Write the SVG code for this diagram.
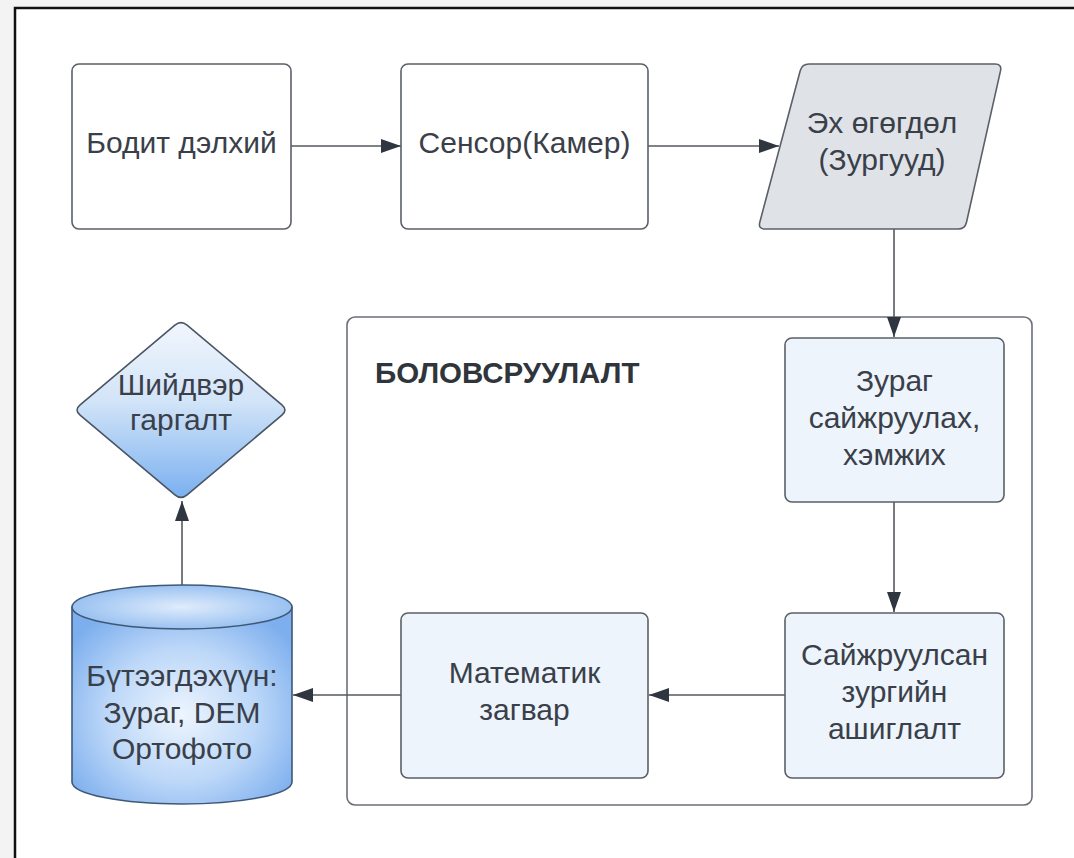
<svg xmlns="http://www.w3.org/2000/svg" width="1074" height="858" viewBox="0 0 1074 858">
  <defs>
    <style>
      .node { stroke: #5b6068; stroke-width: 1.6; }
      .plain { fill: #ffffff; }
      .light { fill: #edf4fc; }
      .grey { fill: #dfe3e8; }
      .lbl { font-family: "Liberation Sans", Arial, sans-serif; font-size: 30px; fill: #3a4049; text-anchor: middle; }
      .title { font-family: "Liberation Sans", Arial, sans-serif; font-size: 29.5px; font-weight: bold; fill: #30353c; }
      .edge { stroke: #555a60; stroke-width: 1.6; fill: none; marker-end: url(#arrow); }
    </style>
    <marker id="arrow" viewBox="0 0 20 14" refX="20" refY="7" markerWidth="20" markerHeight="14" markerUnits="userSpaceOnUse" orient="auto">
      <path d="M0,0 L20,7 L0,14 Z" fill="#2f3640"/>
    </marker>
    <linearGradient id="diamondGrad" x1="0" y1="0" x2="0" y2="1">
      <stop offset="0" stop-color="#f1f6fd"/>
      <stop offset="0.45" stop-color="#d2e4f8"/>
      <stop offset="1" stop-color="#7ab0f0"/>
    </linearGradient>
    <radialGradient id="cylGrad" cx="0.5" cy="0.55" r="0.62">
      <stop offset="0" stop-color="#edf5fe"/>
      <stop offset="0.55" stop-color="#bcd7f8"/>
      <stop offset="1" stop-color="#7dafee"/>
    </radialGradient>
    <radialGradient id="cylTopGrad" cx="0.5" cy="0.5" r="0.6">
      <stop offset="0" stop-color="#dfecfc"/>
      <stop offset="1" stop-color="#8cb9ef"/>
    </radialGradient>
  </defs>

  <!-- background and frame -->
  <rect x="0" y="0" width="1074" height="858" fill="#f3f3f3"/>
  <rect x="15" y="8" width="1070" height="860" fill="#ffffff" stroke="#111111" stroke-width="2.5"/>

  <!-- container -->
  <g id="container">
    <rect x="347" y="317" width="685" height="488" rx="8" fill="#ffffff" stroke="#6b7078" stroke-width="1.6"/>
    <text class="title" x="375" y="383">БОЛОВСРУУЛАЛТ</text>
  </g>

  <!-- connectors -->
  <g id="connectors">
    <line class="edge" x1="291" y1="146" x2="401" y2="146"/>
    <line class="edge" x1="648" y1="146" x2="779" y2="146"/>
    <line class="edge" x1="894" y1="229" x2="894" y2="337"/>
    <line class="edge" x1="894" y1="502" x2="894" y2="612"/>
    <line class="edge" x1="785" y1="695" x2="649" y2="695"/>
    <line class="edge" x1="401" y1="695" x2="293" y2="695"/>
    <line class="edge" x1="182" y1="585" x2="182" y2="501"/>
  </g>

  <g id="node-bodit">
    <rect class="node plain" x="72" y="64" width="219" height="165" rx="7"/>
    <text class="lbl" x="181.5" y="153">Бодит дэлхий</text>
  </g>

  <g id="node-sensor">
    <rect class="node plain" x="401" y="64" width="247" height="165" rx="7"/>
    <text class="lbl" x="524.5" y="153">Сенсор(Камер)</text>
  </g>

  <g id="node-ekh">
    <path class="node grey" d="M809,64 L995,64 Q1002,64 1000.5,70.8 L966.5,222.2 Q965,229 958,229 L765,229 Q758,229 759.8,222.2 L800.2,70.8 Q802,64 809,64 Z"/>
    <text class="lbl" x="882" y="133">Эх өгөгдөл</text>
    <text class="lbl" x="882" y="170">(Зургууд)</text>
  </g>

  <g id="node-zurag">
    <rect class="node light" x="785" y="338" width="219" height="164" rx="7"/>
    <text class="lbl" x="894.5" y="391">Зураг</text>
    <text class="lbl" x="894.5" y="428">сайжруулах,</text>
    <text class="lbl" x="894.5" y="465">хэмжих</text>
  </g>

  <g id="node-saijruulsan">
    <rect class="node light" x="785" y="613" width="219" height="165" rx="7"/>
    <text class="lbl" x="894.5" y="665">Сайжруулсан</text>
    <text class="lbl" x="894.5" y="702">зургийн</text>
    <text class="lbl" x="894.5" y="739">ашиглалт</text>
  </g>

  <g id="node-matematik">
    <rect class="node light" x="401" y="613" width="247" height="165" rx="7"/>
    <text class="lbl" x="524.5" y="683">Математик</text>
    <text class="lbl" x="524.5" y="720">загвар</text>
  </g>

  <g id="node-butээgdekhuun">
    <path d="M72,607 L72,782 A110,22 0 0 0 292,782 L292,607" fill="url(#cylGrad)" stroke="#3f5876" stroke-width="1.6"/>
    <ellipse cx="182" cy="607" rx="110" ry="22" fill="url(#cylTopGrad)" stroke="#3f5876" stroke-width="1.6"/>
    <text class="lbl" x="182" y="686">Бүтээгдэхүүн:</text>
    <text class="lbl" x="182" y="723">Зураг, DEM</text>
    <text class="lbl" x="182" y="759">Ортофото</text>
  </g>

  <g id="node-shiidver">
    <path d="M187.1,325.2 L281.9,404.8 Q288,410 281.9,415.2 L187.1,494.8 Q181,500 174.9,494.8 L80.1,415.2 Q74,410 80.1,404.8 L174.9,325.2 Q181,320 187.1,325.2 Z" fill="url(#diamondGrad)" stroke="#4a5564" stroke-width="1.6"/>
    <text class="lbl" x="181" y="395">Шийдвэр</text>
    <text class="lbl" x="181" y="430">гаргалт</text>
  </g>
</svg>
